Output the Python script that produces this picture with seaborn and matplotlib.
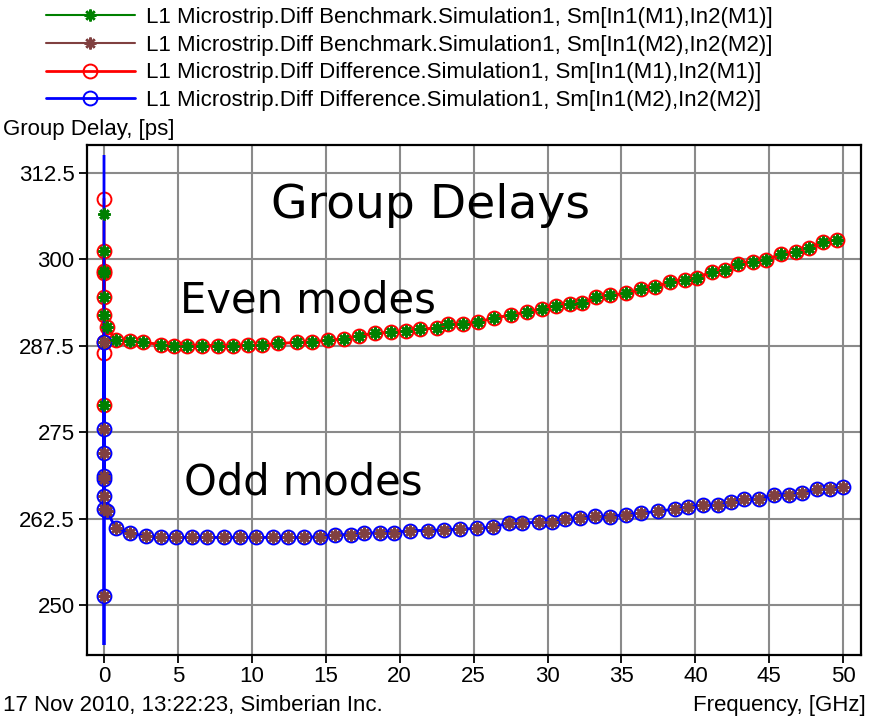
import matplotlib
matplotlib.use("Agg")
import matplotlib.pyplot as plt
import seaborn as sns
from matplotlib.transforms import Bbox, TransformedBbox

# ---------------- data ----------------
series_labels = [
    "L1 Microstrip.Diff Benchmark.Simulation1, Sm[In1(M1),In2(M1)]",
    "L1 Microstrip.Diff Benchmark.Simulation1, Sm[In1(M2),In2(M2)]",
    "L1 Microstrip.Diff Difference.Simulation1, Sm[In1(M1),In2(M1)]",
    "L1 Microstrip.Diff Difference.Simulation1, Sm[In1(M2),In2(M2)]",
]

# low-frequency (near DC) points, GHz / ps
freq_low_green = [0, 0, 0, 0, 0, 0, 0, 0, 0.18]
green_low = [306.6, 279.0, 301.2, 298.4, 298.0, 294.5, 291.9, 288.0, 290.2]
freq_low_red = [0, 0, 0, 0, 0, 0, 0, 0, 0, 0.18]
red_low = [308.8, 279.0, 286.4, 301.2, 298.4, 298.0, 294.5, 291.9, 288.0, 290.2]
freq_low_brown = [0, 0, 0, 0, 0, 0, 0, 0, 0.2]
brown_low = [251.3, 288.0, 275.5, 272.0, 268.7, 268.3, 265.8, 263.9, 263.6]
freq_low_blue = [0, 0, 0, 0, 0, 0, 0, 0, 0, 0, 0.2]
blue_low = [330.0, 230.0, 251.3, 288.0, 275.5, 272.0, 268.7, 268.3, 265.8, 263.9, 263.6]

# even mode (M1) sweep
freq_even = [0.79, 1.76, 2.66, 3.86, 4.74, 5.64, 6.61, 7.69, 8.75, 9.76, 10.71, 11.79,
             13.04, 14.05, 15.13, 16.26, 17.25, 18.3, 19.4, 20.4, 21.4, 22.5, 23.3, 24.3,
             25.3, 26.4, 27.5, 28.6, 29.6, 30.6, 31.5, 32.3, 33.3, 34.2, 35.3, 36.3, 37.3,
             38.3, 39.3, 40.1, 41.1, 42.0, 42.9, 43.9, 44.8, 45.8, 46.8, 47.7, 48.6, 49.6]
even_delay = [288.4, 288.2, 288.0, 287.7, 287.55, 287.55, 287.55, 287.55, 287.55, 287.6,
              287.65, 287.85, 288.0, 288.1, 288.3, 288.5, 289.0, 289.3, 289.5, 289.6, 289.9,
              290.1, 290.7, 290.7, 290.9, 291.6, 291.9, 292.4, 292.8, 293.3, 293.6, 293.7,
              294.5, 294.8, 295.1, 295.7, 296.0, 296.8, 297.1, 297.35, 298.2, 298.5, 299.4,
              299.7, 299.95, 300.8, 301.1, 301.7, 302.5, 302.85]

# odd mode (M2) sweep
freq_odd = [0.79, 1.76, 2.82, 3.86, 4.87, 5.97, 7.0, 8.1, 9.2, 10.26, 11.45, 12.45, 13.53,
            14.6, 15.6, 16.7, 17.6, 18.7, 19.6, 20.7, 21.9, 23.0, 24.1, 25.2, 26.3, 27.4,
            28.3, 29.4, 30.3, 31.2, 32.2, 33.2, 34.2, 35.3, 36.3, 37.5, 38.6, 39.5, 40.5,
            41.5, 42.4, 43.3, 44.3, 45.3, 46.3, 47.2, 48.2, 49.1, 50.0]
odd_delay = [261.15, 260.4, 260.0, 259.8, 259.8, 259.8, 259.8, 259.8, 259.8, 259.8, 259.8,
             259.8, 259.8, 259.9, 260.2, 260.2, 260.4, 260.5, 260.5, 260.8, 260.8, 260.9,
             261.0, 261.1, 261.3, 261.9, 261.9, 262.0, 262.1, 262.4, 262.6, 262.9, 262.8,
             263.1, 263.3, 263.6, 263.9, 264.2, 264.5, 264.5, 264.9, 265.35, 265.35, 266.0,
             266.0, 266.2, 266.8, 266.8, 267.1]

x_ticks = [0, 5, 10, 15, 20, 25, 30, 35, 40, 45, 50]
y_ticks = [250, 262.5, 275, 287.5, 300, 312.5]
y_tick_labels = ["250", "262.5", "275", "287.5", "300", "312.5"]

# ---------------- style ----------------
sns.set_style("white")
plt.rcParams["font.family"] = ["Liberation Sans Narrow", "Liberation Sans", "DejaVu Sans"]
plt.rcParams["text.color"] = "black"

GREEN, BROWN, RED, BLUE = "#008000", "#804040", "#ff0000", "#0000ff"

fig = plt.figure(figsize=(8.71, 7.17), dpi=100)
ax = fig.add_axes([87 / 871, 1 - 655 / 717, (861 - 87) / 871, (655 - 145) / 717])

g_x = freq_low_green + freq_even
g_y = green_low + even_delay
r_x = freq_low_red + freq_even
r_y = red_low + even_delay
b_x = freq_low_brown + freq_odd
b_y = brown_low + odd_delay
u_x = freq_low_blue + freq_odd
u_y = blue_low + odd_delay

star = dict(marker=(8, 2, 0), markersize=8.5, markeredgewidth=1.8)
circ = dict(marker="o", markersize=10, markeredgewidth=1.4, markerfacecolor="none")

sns.lineplot(x=g_x, y=g_y, color=GREEN, linewidth=1.5, markeredgecolor=GREEN,
             markerfacecolor=GREEN, estimator=None, sort=False, label=series_labels[0],
             ax=ax, zorder=2, **star)
sns.lineplot(x=b_x, y=b_y, color=BROWN, linewidth=1.5, markeredgecolor=BROWN,
             markerfacecolor=BROWN, estimator=None, sort=False, label=series_labels[1],
             ax=ax, zorder=2, **star)
sns.lineplot(x=r_x, y=r_y, color=RED, linewidth=2, markeredgecolor=RED,
             estimator=None, sort=False, label=series_labels[2], ax=ax, zorder=3, **circ)
sns.lineplot(x=u_x, y=u_y, color=BLUE, linewidth=2, markeredgecolor=BLUE,
             estimator=None, sort=False, label=series_labels[3], ax=ax, zorder=3.1, **circ)
blue_line = ax.lines[-1]
blue_line.set_clip_box(TransformedBbox(Bbox([[0, 10 / 510], [1, 500 / 510]]), ax.transAxes))

# benchmark markers on top of the difference lines
sns.lineplot(x=g_x, y=g_y, color=GREEN, linestyle="", markeredgecolor=GREEN,
             markerfacecolor=GREEN, estimator=None, sort=False, legend=False,
             ax=ax, zorder=4, **star)
sns.lineplot(x=b_x, y=b_y, color=BROWN, linestyle="", markeredgecolor=BROWN,
             markerfacecolor=BROWN, estimator=None, sort=False, legend=False,
             ax=ax, zorder=4, **star)

handles, labels = ax.get_legend_handles_labels()
if ax.get_legend() is not None:
    ax.get_legend().remove()

ax.set_xlim(-1.15, 51.2)
ax.set_ylim(242.8, 316.55)
ax.set_xticks(x_ticks)
ax.set_xticklabels([str(t) for t in x_ticks])
ax.set_yticks(y_ticks)
ax.set_yticklabels(y_tick_labels)
ax.set_xlabel("")
ax.set_ylabel("")
ax.grid(True, color="#8a8a8a", linewidth=1.5, zorder=0)
ax.set_axisbelow(True)
for sp in ax.spines.values():
    sp.set_visible(True)
    sp.set_color("black")
    sp.set_linewidth(1.6)
ax.tick_params(axis="both", which="major", bottom=True, left=True, direction="out",
               length=6, width=1.3, color="black", labelsize=16, labelcolor="black")
ax.tick_params(axis="x", pad=2)
ax.tick_params(axis="y", pad=3)

fig.legend(handles, labels, loc="upper left", bbox_to_anchor=(46 / 871, 1 - 7 / 717),
           frameon=False, fontsize=16, handlelength=4.0, handletextpad=0.5,
           labelspacing=0.3, borderpad=0, borderaxespad=0)

ax.text(22.06, 307.8, "Group Delays", fontsize=34, family="DejaVu Sans",
        ha="center", va="center", color="black")
ax.text(13.8, 294.1, "Even modes", fontsize=30, family="DejaVu Sans",
        ha="center", va="center", color="black")
ax.text(13.5, 267.7, "Odd modes", fontsize=30, family="DejaVu Sans",
        ha="center", va="center", color="black")

fig.text(3 / 871, 1 - 130 / 717, "Group Delay, [ps]", fontsize=16, va="center", ha="left")
fig.text(3 / 871, 1 - 705 / 717, "17 Nov 2010, 13:22:23, Simberian Inc.", fontsize=16,
         va="center", ha="left")
fig.text(866 / 871, 1 - 705 / 717, "Frequency, [GHz]", fontsize=16, va="center", ha="right")

fig.savefig("out.png", dpi=100)
